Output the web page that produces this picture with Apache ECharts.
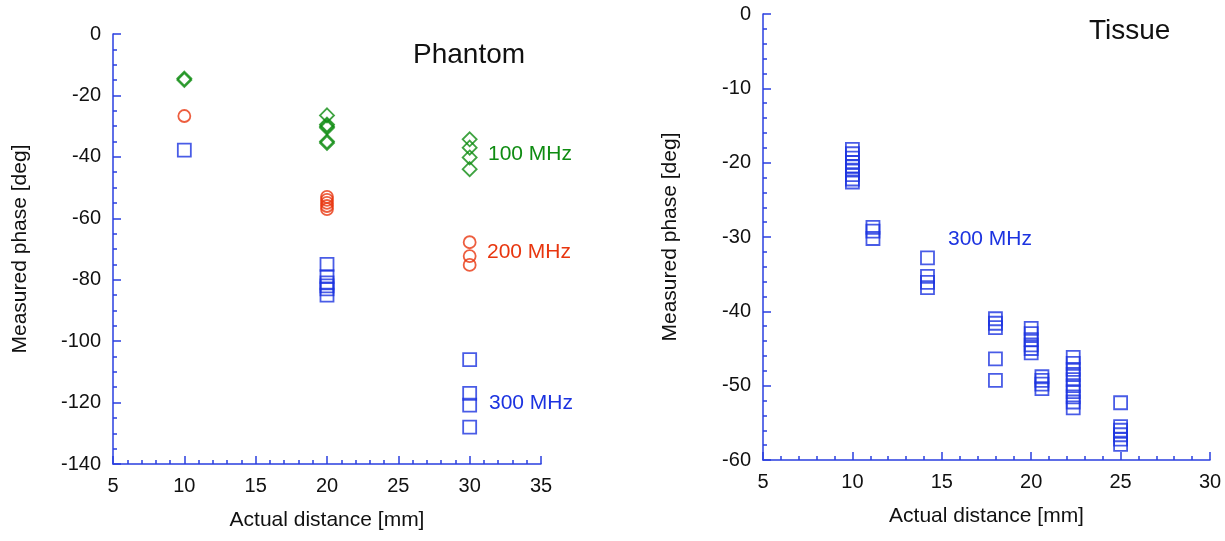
<!DOCTYPE html>
<html>
<head>
<meta charset="utf-8">
<script src="https://cdn.jsdelivr.net/npm/echarts@6/dist/echarts.min.js"></script>
<style>
  html, body { margin: 0; padding: 0; background: #fff; }
  #main { width: 1225px; height: 541px; }
</style>
</head>
<body>
<div id="main"></div>
<script>
// Phantom panel: [distance mm, phase deg]
var phantom100 = [[10, -14.5], [10, -15], [20, -26.5], [20, -29.5], [20, -30], [20, -30.5], [20, -35], [20, -35.5],
  [30, -34.3], [30, -37], [30, -40.2], [30, -44]];
var phantom200 = [[10, -26.7], [20, -53], [20, -54], [20, -55], [20, -56], [20, -57],
  [30, -67.8], [30, -72.3], [30, -75.2]];
var phantom300 = [[10, -37.8], [20, -75], [20, -79], [20, -81], [20, -82], [20, -83], [20, -85],
  [30, -106], [30, -117], [30, -120.8], [30, -128]];

// Tissue panel, 300 MHz only
var tissue300 = [
  [10, -18.2], [10, -18.8], [10, -19.4], [10, -20], [10, -20.5], [10, -21], [10, -21.6], [10, -22.2], [10, -22.6],
  [11.15, -28.7], [11.15, -29.2], [11.15, -30.2],
  [14.2, -32.8], [14.2, -35.3], [14.2, -36.1], [14.2, -36.8],
  [18, -41], [18, -41.6], [18, -42.2], [18, -46.4], [18, -49.3],
  [20, -42.3], [20, -43], [20, -43.8], [20, -44.5], [20, -45], [20, -45.6],
  [20.6, -48.8], [20.6, -49.3], [20.6, -49.8], [20.6, -50.4],
  [22.35, -46.2], [22.35, -47], [22.35, -47.8], [22.35, -48.5], [22.35, -49.2], [22.35, -50],
  [22.35, -50.8], [22.35, -51.5], [22.35, -52.2], [22.35, -53],
  [25, -52.3], [25, -55.5], [25, -56], [25, -56.6], [25, -57.2], [25, -57.9]
];

var GREEN = '#0f8c12';
var RED = '#e8360f';
var BLUE = '#1c33e0';
var AXIS = '#2a3fe0';
var FONT = 'Liberation Sans, Arial, sans-serif';

var chart = echarts.init(document.getElementById('main'));

function xAxisOf(grid, min, max) {
  return {
    gridIndex: grid, type: 'value', min: min, max: max, interval: 5,
    name: 'Actual distance [mm]', nameLocation: 'middle', nameGap: 46,
    nameTextStyle: { color: '#111', fontSize: 21, fontFamily: FONT },
    axisLine: { onZero: false, lineStyle: { color: AXIS, width: 1.5 } },
    axisTick: { inside: true, length: 8, lineStyle: { color: AXIS, width: 1.5 } },
    minorTick: { show: true, splitNumber: 5, length: 4, lineStyle: { color: AXIS, width: 1.5 } },
    axisLabel: { color: '#111', fontSize: 20, fontFamily: FONT, margin: 12 },
    splitLine: { show: false }
  };
}

function yAxisOf(grid, min, max, interval, minorSplit) {
  return {
    gridIndex: grid, type: 'value', min: min, max: max, interval: interval,
    name: 'Measured phase [deg]', nameLocation: 'middle', nameGap: 82,
    nameTextStyle: { color: '#111', fontSize: 21, fontFamily: FONT },
    axisLine: { show: true, onZero: false, lineStyle: { color: AXIS, width: 1.5 } },
    axisTick: { show: true, inside: true, length: 8, lineStyle: { color: AXIS, width: 1.5 } },
    minorTick: { show: true, splitNumber: minorSplit, length: 4, lineStyle: { color: AXIS, width: 1.5 } },
    axisLabel: { color: '#111', fontSize: 20, fontFamily: FONT, margin: 12 },
    splitLine: { show: false }
  };
}

function scatter(data, x, y, symbol, size, color) {
  return {
    type: 'scatter', xAxisIndex: x, yAxisIndex: y, data: data,
    symbol: symbol, symbolSize: size,
    itemStyle: { color: 'transparent', borderColor: color, borderWidth: 1.8 },
    emphasis: { disabled: true }, silent: true
  };
}

chart.setOption({
  backgroundColor: '#fff',
  animation: false,
  grid: [
    { left: 113, top: 34, width: 428, height: 430 },
    { left: 763, top: 14, width: 447, height: 446 }
  ],
  xAxis: [xAxisOf(0, 5, 35), xAxisOf(1, 5, 30)],
  yAxis: [yAxisOf(0, -140, 0, 20, 4), yAxisOf(1, -60, 0, 10, 5)],
  series: [
    scatter(phantom100, 0, 0, 'diamond', [14, 14], GREEN),
    scatter(phantom200, 0, 0, 'circle', 12, RED),
    scatter(phantom300, 0, 0, 'rect', 13, BLUE),
    scatter(tissue300, 1, 1, 'rect', 13, BLUE)
  ],
  graphic: [
    { type: 'text', left: 413, top: 41, style: { text: 'Phantom', fontSize: 28, fontFamily: FONT, fill: '#111' } },
    { type: 'text', left: 1089, top: 17, style: { text: 'Tissue', fontSize: 28, fontFamily: FONT, fill: '#111' } },
    { type: 'text', left: 488, top: 144, style: { text: '100 MHz', fontSize: 21, fontFamily: FONT, fill: GREEN } },
    { type: 'text', left: 487, top: 242, style: { text: '200 MHz', fontSize: 21, fontFamily: FONT, fill: RED } },
    { type: 'text', left: 489, top: 393, style: { text: '300 MHz', fontSize: 21, fontFamily: FONT, fill: BLUE } },
    { type: 'text', left: 948, top: 229, style: { text: '300 MHz', fontSize: 21, fontFamily: FONT, fill: BLUE } }
  ]
});
</script>
</body>
</html>
